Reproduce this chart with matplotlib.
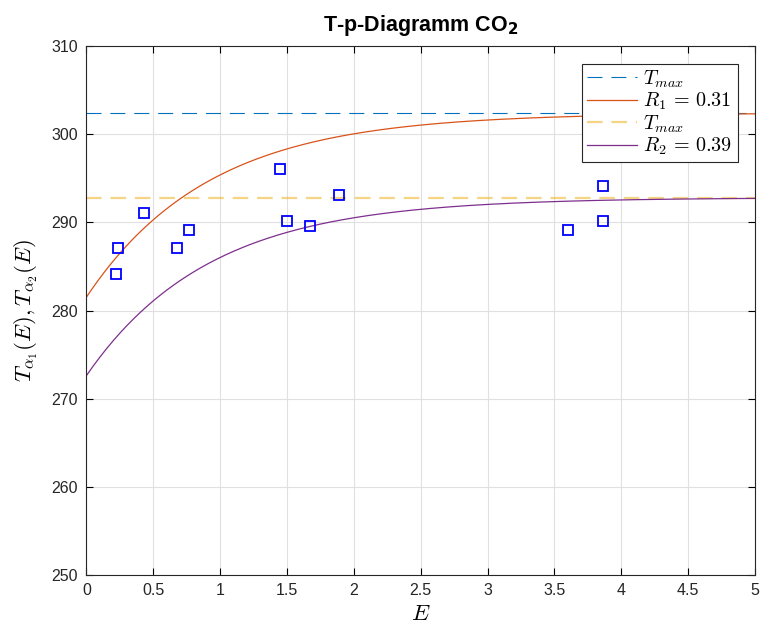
import numpy as np
import matplotlib
matplotlib.use('Agg')
import matplotlib.pyplot as plt

plt.rcParams['font.family'] = ['Liberation Sans', 'DejaVu Sans']
plt.rcParams['mathtext.fontset'] = 'cm'

# measured points
E_meas = [0.22, 0.24, 0.43, 0.68, 0.77, 1.45, 1.50, 1.67, 1.89, 3.60, 3.86, 3.86]
T_meas = [284.1, 287.1, 291.1, 287.1, 289.1, 296.1, 290.1, 289.6, 293.1, 289.1, 294.1, 290.1]

# fitted saturation curves T(E) = Tmax - (Tmax - T0) * exp(-k E)
Tmax_1 = 302.4
T0_1 = 281.5
Tmax_2 = 292.8
T0_2 = 272.6
k_fit = 1.09
R_1 = 0.31
R_2 = 0.39

E = np.linspace(0, 5, 400)
T1 = Tmax_1 - (Tmax_1 - T0_1) * np.exp(-k_fit * E)
T2 = Tmax_2 - (Tmax_2 - T0_2) * np.exp(-k_fit * E)

fig = plt.figure(figsize=(7.6, 6.32), dpi=100)
ax = fig.add_axes([0.1136, 0.0902, 0.8798, 0.837])

ax.plot([0, 5], [Tmax_1, Tmax_1], color='#0072BD', lw=0.8,
        linestyle=(0, (13.5, 8)), label=r'$T_{max}$')
ax.plot(E, T1, color='#D95319', lw=0.9, label=r'$R_1\,=\,%.2f$' % R_1)
ax.plot([0, 5], [Tmax_2, Tmax_2], color='#EDB120', lw=1.6, alpha=0.55,
        linestyle=(0, (7, 4)), label=r'$T_{max}$')
ax.plot(E, T2, color='#7E2F8E', lw=0.9, label=r'$R_2\,=\,%.2f$' % R_2)
ax.plot(E_meas, T_meas, linestyle='none', marker='s', markersize=7,
        markerfacecolor='none', markeredgecolor='#0000FF', markeredgewidth=1.3)

ax.set_xlim(0, 5)
ax.set_ylim(250, 310)
ax.set_xticks(np.arange(0, 5.01, 0.5))
ax.set_xticklabels(['0', '0.5', '1', '1.5', '2', '2.5', '3', '3.5', '4', '4.5', '5'])
ax.set_yticks(np.arange(250, 311, 10))
ax.tick_params(direction='in', length=5, width=0.8, top=True, right=True,
               labelsize=11.5, labelcolor='#262626', pad=6)
ax.grid(True, color='#e0e0e0', lw=0.8)
for s in ax.spines.values():
    s.set_color('#262626')
    s.set_linewidth(0.8)

ax.set_xlabel(r'$E$', fontsize=16.5, labelpad=3)
ax.set_ylabel(r'$T_{\alpha_1}(E), T_{\alpha_2}(E)$', fontsize=16.5, labelpad=8)
ax.set_title(r'T-p-Diagramm CO$_\mathbf{2}$', fontsize=15.5, fontweight='bold',
             pad=11, math_fontfamily='dejavusans')

leg = ax.legend(loc='upper right', bbox_to_anchor=(737.5 / 760, 1 - 63.5 / 632),
                bbox_transform=fig.transFigure, borderaxespad=0, fontsize=14.5,
                fancybox=False, edgecolor='#262626', framealpha=1,
                handlelength=2.5, handletextpad=0.3, labelspacing=0.05,
                borderpad=0.25)
leg.get_frame().set_linewidth(0.8)

fig.savefig('out.png', dpi=100)
